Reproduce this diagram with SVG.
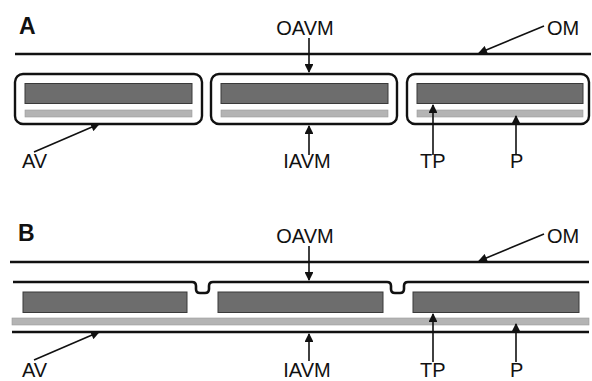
<svg xmlns="http://www.w3.org/2000/svg" width="592" height="381" viewBox="0 0 592 381">
  <style>
    .lbl { font-family: "Liberation Sans", Arial, sans-serif; font-size: 20px; fill: #111; }
    .panel { font-family: "Liberation Sans", Arial, sans-serif; font-size: 23px; font-weight: bold; fill: #111; }
    .mem { stroke: #111; stroke-width: 2.6; fill: none; }
    .vesicle { stroke: #111; stroke-width: 2.4; fill: #fff; }
    .dark { fill: #6d6d6d; stroke: #3a3a3a; stroke-width: 1; }
    .light { fill: #b4b4b4; stroke: #9a9a9a; stroke-width: 0.6; }
    .ptr { stroke: #111; stroke-width: 1.6; fill: none; marker-end: url(#head); }
  </style>
  <defs>
    <marker id="head" viewBox="0 0 10 10" refX="9" refY="5" markerWidth="6" markerHeight="5.5" orient="auto" markerUnits="strokeWidth">
      <path d="M0,0 L10,5 L0,10 Z" fill="#111"/>
    </marker>
  </defs>
  <rect width="592" height="381" fill="#fff"/>

  <!-- Panel A: separate vesicles -->
  <g id="panelA">
    <text class="panel" x="19" y="34">A</text>
    <line id="A-om" class="mem" x1="15" y1="54" x2="591" y2="54"/>
    <g id="A-vesicle1">
      <rect class="vesicle" x="15" y="74" width="187" height="50" rx="8"/>
      <rect class="dark" x="25" y="83.5" width="167" height="20"/>
      <rect class="light" x="25" y="110" width="167" height="7"/>
    </g>
    <g id="A-vesicle2">
      <rect class="vesicle" x="211" y="74" width="186" height="50" rx="8"/>
      <rect class="dark" x="221" y="83.5" width="167" height="20"/>
      <rect class="light" x="221" y="110" width="167" height="7"/>
    </g>
    <g id="A-vesicle3">
      <rect class="vesicle" x="407" y="74" width="182" height="50" rx="8"/>
      <rect class="dark" x="417" y="83.5" width="166" height="20"/>
      <rect class="light" x="417" y="110" width="166" height="7"/>
    </g>
    <text class="lbl" x="305" y="35" text-anchor="middle">OAVM</text>
    <text class="lbl" x="547" y="35">OM</text>
    <text class="lbl" x="22" y="168">AV</text>
    <text class="lbl" x="307" y="168" text-anchor="middle">IAVM</text>
    <text class="lbl" x="420" y="168">TP</text>
    <text class="lbl" x="510" y="168">P</text>
  </g>

  <!-- Panel B: fused vesicles -->
  <g id="panelB">
    <text class="panel" x="18" y="241">B</text>
    <line id="B-om" class="mem" x1="10" y1="262" x2="589" y2="262"/>
    <path id="B-oavm" class="mem" d="M13 282 H192 Q196 282 196 286 V289 Q196 293 200 293 H205 Q209 293 209 289 V286 Q209 282 213 282 H387 Q391 282 391 286 V289 Q391 293 395 293 H400 Q404 293 404 289 V286 Q404 282 408 282 H589"/>
    <rect class="dark" x="23" y="292" width="164" height="20.5"/>
    <rect class="dark" x="218" y="292" width="165" height="20.5"/>
    <rect class="dark" x="413" y="292" width="166" height="20.5"/>
    <rect class="light" x="12" y="318" width="577" height="7"/>
    <line id="B-iavm" class="mem" x1="12" y1="332" x2="589" y2="332"/>
    <text class="lbl" x="305" y="243" text-anchor="middle">OAVM</text>
    <text class="lbl" x="547" y="243">OM</text>
    <text class="lbl" x="22" y="377">AV</text>
    <text class="lbl" x="307" y="377" text-anchor="middle">IAVM</text>
    <text class="lbl" x="420" y="377">TP</text>
    <text class="lbl" x="510" y="377">P</text>
  </g>

  <!-- Pointers -->
  <g id="connectors">
    <line class="ptr" x1="544" y1="26" x2="479" y2="53"/>
    <line class="ptr" x1="309" y1="38" x2="309" y2="72"/>
    <line class="ptr" x1="34" y1="152" x2="99" y2="124"/>
    <line class="ptr" x1="309" y1="155" x2="309" y2="126"/>
    <line class="ptr" x1="433" y1="155" x2="433" y2="105"/>
    <line class="ptr" x1="516" y1="155" x2="516" y2="116"/>

    <line class="ptr" x1="544" y1="234" x2="479" y2="261"/>
    <line class="ptr" x1="309" y1="246" x2="309" y2="280"/>
    <line class="ptr" x1="34" y1="360" x2="99" y2="332"/>
    <line class="ptr" x1="309" y1="361" x2="309" y2="334"/>
    <line class="ptr" x1="433" y1="362" x2="433" y2="314"/>
    <line class="ptr" x1="516" y1="362" x2="516" y2="324"/>
  </g>
</svg>
